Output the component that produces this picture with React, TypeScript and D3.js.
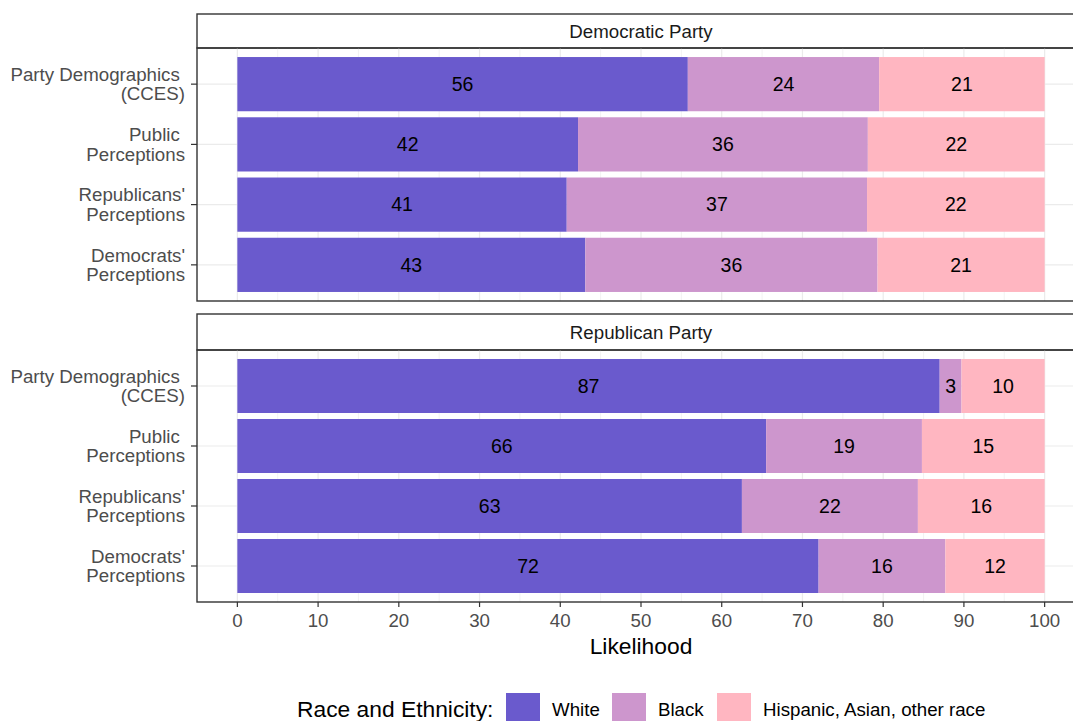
import React from "react";
import * as d3 from "d3";

const parties = ["Democratic Party", "Republican Party"];
const groups = ["Party Demographics\u00A0\n(CCES)", "Public\u00A0\nPerceptions", "Republicans'\nPerceptions", "Democrats'\nPerceptions"];
const races = ["White", "Black", "Hispanic, Asian, other race"];
const colors = ["#6A5ACD", "#CD96CD", "#FFB6C1"];

// values per party, per group: [White, Black, Hispanic/Asian/other]
const demWhite = [55.8, 42.2, 40.8, 43.1];
const demBlack = [23.7, 35.9, 37.2, 36.2];
const demOther = [20.5, 21.9, 22.0, 20.7];
const repWhite = [87.0, 65.5, 62.5, 72.0];
const repBlack = [2.7, 19.3, 21.8, 15.7];
const repOther = [10.3, 15.2, 15.7, 12.3];

const xTicks = [0, 10, 20, 30, 40, 50, 60, 70, 80, 90, 100];
const xMinor = [5, 15, 25, 35, 45, 55, 65, 75, 85, 95];

const FONT = "'Liberation Sans', Arial, Helvetica, sans-serif";

export default function App() {
  const W = 1073, H = 721;
  const left = 197, right = 1085;
  const x = d3.scaleLinear().domain([-5, 105]).range([left, right]);
  const panels = [
    { stripTop: 14, top: 48, bottom: 301, data: [demWhite, demBlack, demOther] },
    { stripTop: 314, top: 350, bottom: 602, data: [repWhite, repBlack, repOther] },
  ];
  const legendItems = [
    { keyX: 506, textX: 552 },
    { keyX: 612, textX: 658 },
    { keyX: 717, textX: 763 },
  ];
  return (
    <svg width={W} height={H} style={{ position: "absolute", left: 0, top: 0, background: "white" }} fontFamily={FONT}>
      <rect x={0} y={0} width={W} height={H} fill="white" />
      {panels.map((p, pi) => {
        const y = d3.scaleLinear().domain([0.4, 4.6]).range([p.top, p.bottom]);
        const bw = 0.9 * (y(2) - y(1));
        return (
          <g key={pi}>
            <rect x={left} y={p.stripTop} width={right - left} height={p.top - p.stripTop} fill="white" stroke="#333" strokeWidth={1.4} />
            <text x={(left + right) / 2} y={(p.stripTop + p.top) / 2} dy="0.35em" textAnchor="middle" fontSize={18.7} fill="#1A1A1A">{parties[pi]}</text>
            {xMinor.map(v => <line key={"m" + v} x1={x(v)} x2={x(v)} y1={p.top} y2={p.bottom} stroke="#EBEBEB" strokeWidth={0.6} />)}
            {xTicks.map(v => <line key={"M" + v} x1={x(v)} x2={x(v)} y1={p.top} y2={p.bottom} stroke="#EBEBEB" strokeWidth={1.2} />)}
            {groups.map((g, gi) => <line key={"h" + gi} x1={left} x2={right} y1={y(gi + 1)} y2={y(gi + 1)} stroke="#EBEBEB" strokeWidth={1.2} />)}
            {groups.map((g, gi) => {
              let cum = 0;
              return (
                <g key={"b" + gi}>
                  {races.map((r, ri) => {
                    const v = p.data[ri][gi];
                    const x0 = cum;
                    cum += v;
                    return (
                      <g key={ri}>
                        <rect x={x(x0)} y={y(gi + 1) - bw / 2} width={x(x0 + v) - x(x0)} height={bw} fill={colors[ri]} />
                        <text x={(x(x0) + x(x0 + v)) / 2} y={y(gi + 1)} dy="0.35em" textAnchor="middle" fontSize={19.5} fill="black">{Math.round(v)}</text>
                      </g>
                    );
                  })}
                </g>
              );
            })}
            <rect x={left} y={p.top} width={right - left} height={p.bottom - p.top} fill="none" stroke="#333" strokeWidth={1.4} />
            {groups.map((g, gi) => {
              const lines = g.split("\n");
              const yc = y(gi + 1);
              return (
                <g key={"y" + gi}>
                  <line x1={left - 6} x2={left} y1={yc} y2={yc} stroke="#333" strokeWidth={1.2} />
                  {lines.map((l, li) => (
                    <text key={li} x={185} y={yc + (li - (lines.length - 1) / 2) * 19.5} dy="0.35em" textAnchor="end" fontSize={18.7} fill="#4D4D4D" style={{ whiteSpace: "pre" }}>{l}</text>
                  ))}
                </g>
              );
            })}
          </g>
        );
      })}
      {xTicks.map(v => (
        <g key={"xt" + v}>
          <line x1={x(v)} x2={x(v)} y1={602} y2={607} stroke="#333" strokeWidth={1.2} />
          <text x={x(v)} y={620} dy="0.35em" textAnchor="middle" fontSize={18.7} fill="#4D4D4D">{v}</text>
        </g>
      ))}
      <text x={(left + right) / 2} y={646} dy="0.35em" textAnchor="middle" fontSize={22.8} fill="black">Likelihood</text>
      <text x={297} y={717} fontSize={22.8} fill="black">Race and Ethnicity:</text>
      {races.map((r, ri) => (
        <g key={"l" + ri}>
          <rect x={legendItems[ri].keyX} y={693} width={34} height={34} fill={colors[ri]} />
          <text x={legendItems[ri].textX} y={716} fontSize={18.7} fill="black">{r}</text>
        </g>
      ))}
    </svg>
  );
}
